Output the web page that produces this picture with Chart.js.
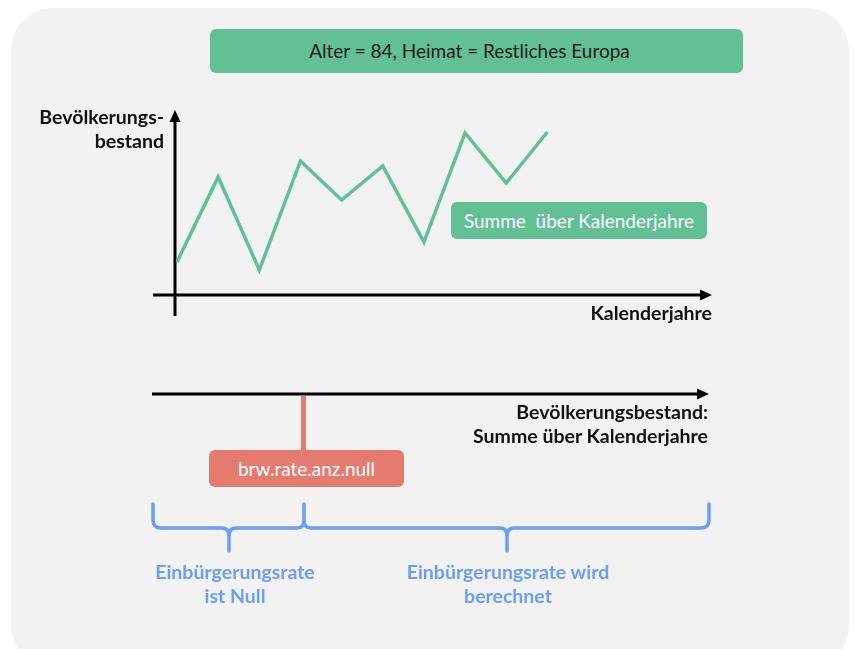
<!DOCTYPE html>
<html>
<head>
<meta charset="utf-8">
<script src="https://cdn.jsdelivr.net/npm/chart.js@4"></script>
<style>
  html, body { margin: 0; padding: 0; background: #fff; }
  body { width: 859px; height: 649px; position: relative; overflow: hidden; font-family: Lato, "Open Sans", sans-serif; }
  .card { position: absolute; left: 11px; top: 8px; width: 838px; height: 660px; background: #f2f2f2; border-radius: 42px; }
  #chart { position: absolute; left: 0; top: 0; }
  .box { position: absolute; border-radius: 6px; text-align: center; font-size: 19px; white-space: nowrap; }
  .green { background: #62bf96; }
  .red { background: #e57a6f; color: #fff; }
  .lbl { position: absolute; font-weight: bold; font-size: 19.5px; line-height: 24px; white-space: nowrap; }
  .dark { color: #111; }
  .blue { color: #6c9ef8; text-align: center; }
  .stem { position: absolute; left: 301px; top: 396px; width: 5px; height: 56px; background: #e57a6f; }
</style>
</head>
<body>
<div class="card"></div>
<div class="stem"></div>
<canvas id="chart" width="859" height="649"></canvas>

<div class="box green" style="left:210px; top:29px; width:533px; height:44px; line-height:44px; color:#1c1c1c;"><span style="position:relative; left:-7px;">Alter = 84, Heimat = Restliches Europa</span></div>
<div class="box green" style="left:451px; top:202px; width:256px; height:37px; line-height:37px; color:#fff;">Summe&nbsp; über Kalenderjahre</div>
<div class="box red" style="left:209px; top:450px; width:195px; height:37px; line-height:37px;">brw.rate.anz.null</div>

<div class="lbl dark" style="right:695px; top:105px; text-align:right;">Bevölkerungs-<br>bestand</div>
<div class="lbl dark" style="right:147px; top:301px; text-align:right;">Kalenderjahre</div>
<div class="lbl dark" style="right:151px; top:400px; text-align:right;">Bevölkerungsbestand:<br>Summe über Kalenderjahre</div>
<div class="lbl blue" style="left:115px; width:240px; top:560px;">Einbürgerungsrate<br>ist Null</div>
<div class="lbl blue" style="left:368px; width:280px; top:560px;">Einbürgerungsrate wird<br>berechnet</div>

<script>
// Kalenderjahre (Index) und Bevölkerungsbestand (schematisch)
const jahre = [0, 1, 2, 3, 4, 5, 6, 7, 8, 9];
const bestand = [33, 118, 25, 134, 95, 129, 53, 162, 112, 163];

const green = '#5fc195';
const blue = '#6c9ef8';

function arrowHead(ctx, x, y, dir) {
    // dir: 'up' or 'right'
    ctx.beginPath();
    if (dir === 'up') {
        ctx.moveTo(x, y);
        ctx.lineTo(x - 5.5, y + 12);
        ctx.lineTo(x + 5.5, y + 12);
    } else {
        ctx.moveTo(x, y);
        ctx.lineTo(x - 12, y - 5.5);
        ctx.lineTo(x - 12, y + 5.5);
    }
    ctx.closePath();
    ctx.fill();
}

const diagramPlugin = {
    id: 'diagram',
    beforeDatasetsDraw(chart) {
        const ctx = chart.ctx;
        const xs = chart.scales.x;
        const ys = chart.scales.y;
        const x0 = xs.getPixelForValue(0) - 2;
        const y0 = ys.getPixelForValue(0);
        const xEnd = xs.getPixelForValue(xs.max);
        const yEnd = ys.getPixelForValue(ys.max);

        ctx.save();
        ctx.strokeStyle = '#000';
        ctx.fillStyle = '#000';
        ctx.lineWidth = 3;
        // y-Achse
        ctx.beginPath();
        ctx.moveTo(x0, y0 + 21);
        ctx.lineTo(x0, yEnd + 8);
        ctx.stroke();
        arrowHead(ctx, x0, yEnd, 'up');
        // x-Achse
        ctx.beginPath();
        ctx.moveTo(x0 - 22, y0);
        ctx.lineTo(xEnd - 8, y0);
        ctx.stroke();
        arrowHead(ctx, xEnd, y0, 'right');

        // untere Achse
        ctx.beginPath();
        ctx.moveTo(152, 394);
        ctx.lineTo(700, 394);
        ctx.stroke();
        arrowHead(ctx, 709, 394, 'right');

        // Klammern
        ctx.strokeStyle = blue;
        ctx.lineWidth = 3.5;
        ctx.lineJoin = 'round';
        ctx.lineCap = 'round';
        ctx.beginPath();
        ctx.moveTo(153, 504);
        ctx.lineTo(153, 520);
        ctx.quadraticCurveTo(153, 528, 161, 528);
        ctx.lineTo(222, 528);
        ctx.quadraticCurveTo(229, 528, 229, 536);
        ctx.lineTo(229, 551);
        ctx.moveTo(229, 536);
        ctx.quadraticCurveTo(229, 528, 236, 528);
        ctx.lineTo(297, 528);
        ctx.quadraticCurveTo(304, 528, 304, 520);
        ctx.lineTo(304, 504);
        ctx.moveTo(304, 520);
        ctx.quadraticCurveTo(304, 528, 311, 528);
        ctx.lineTo(500, 528);
        ctx.quadraticCurveTo(507, 528, 507, 536);
        ctx.lineTo(507, 551);
        ctx.moveTo(507, 536);
        ctx.quadraticCurveTo(507, 528, 514, 528);
        ctx.lineTo(701, 528);
        ctx.quadraticCurveTo(709, 528, 709, 520);
        ctx.lineTo(709, 504);
        ctx.stroke();
        ctx.restore();
    }
};

new Chart(document.getElementById('chart'), {
    type: 'line',
    data: {
        datasets: [{
            data: jahre.map((j, i) => ({ x: j, y: bestand[i] })),
            borderColor: green,
            borderWidth: 3.5,
            pointRadius: 0,
            tension: 0,
            clip: false
        }]
    },
    options: {
        responsive: false,
        animation: false,
        layout: { padding: { left: 177, right: 147, top: 110, bottom: 354 } },
        plugins: { legend: { display: false }, tooltip: { enabled: false } },
        scales: {
            x: { type: 'linear', min: 0, max: 13, display: false },
            y: { min: 0, max: 185, display: false }
        }
    },
    plugins: [diagramPlugin]
});
</script>
</body>
</html>
